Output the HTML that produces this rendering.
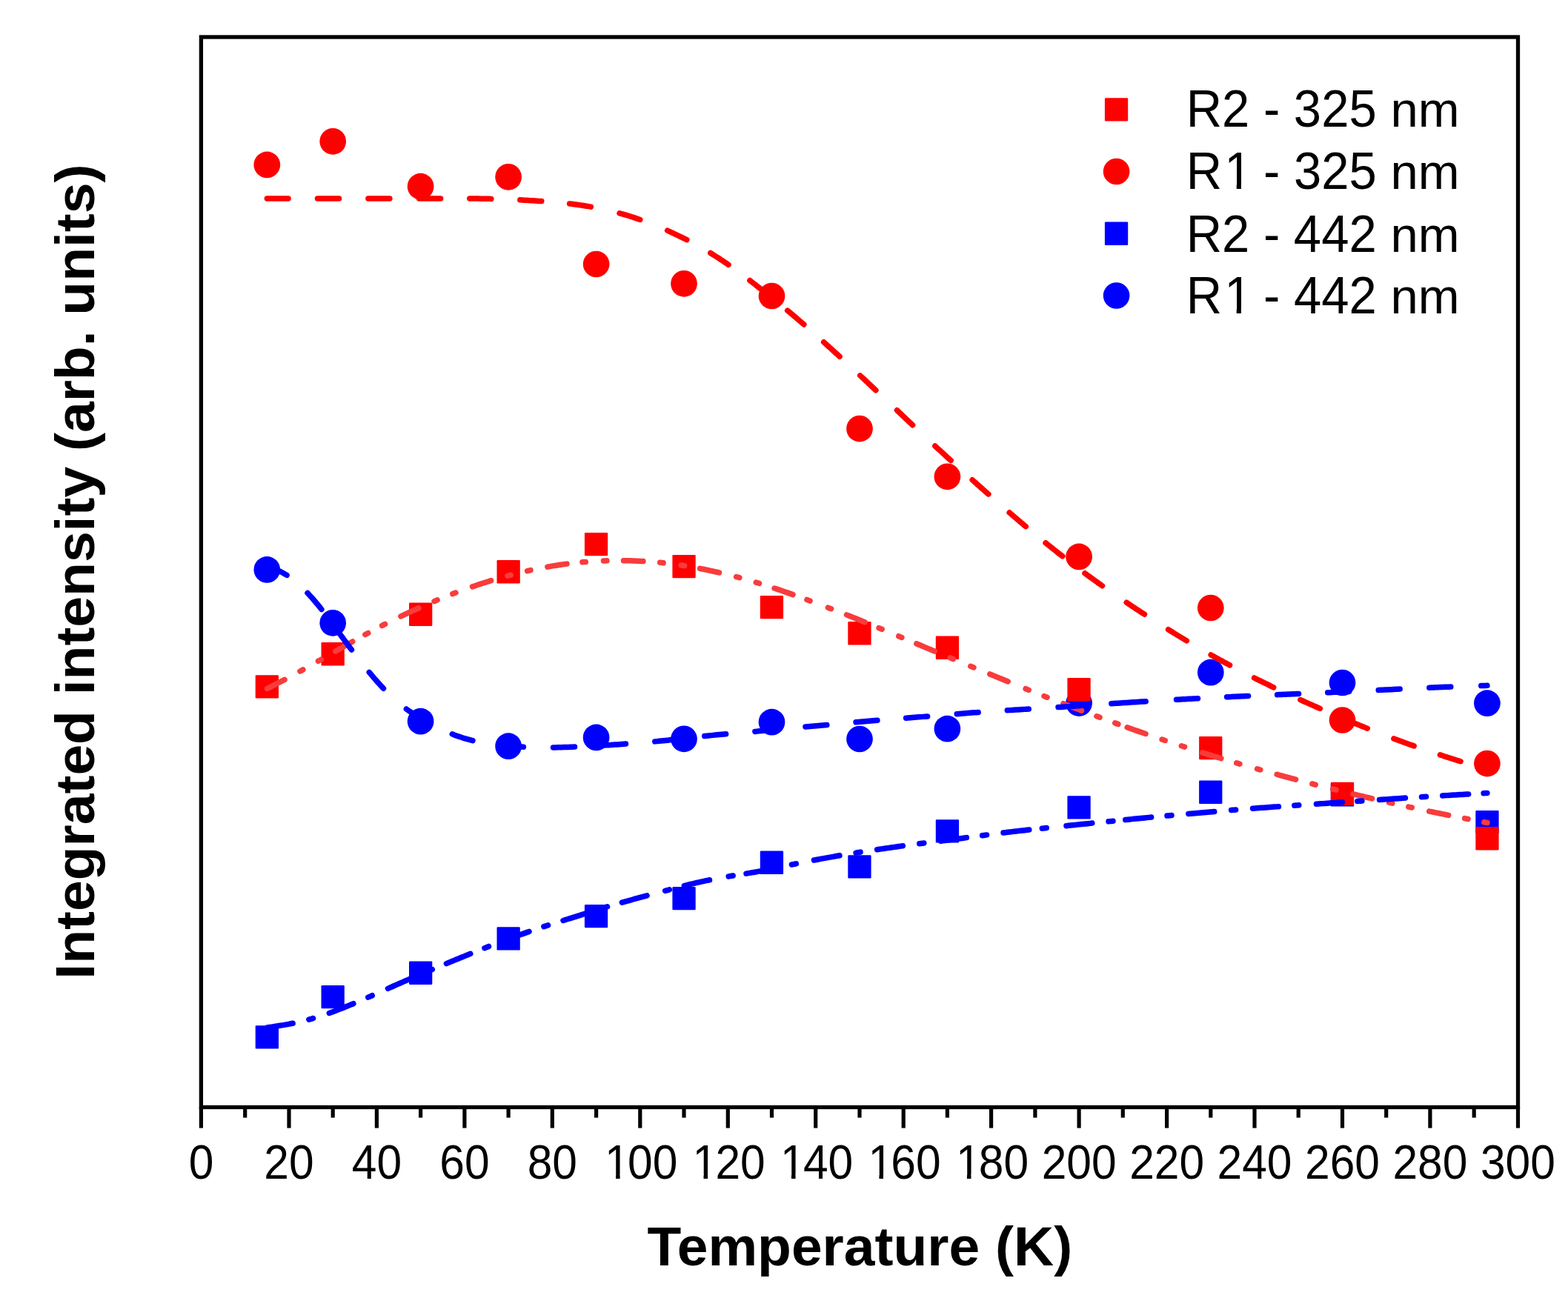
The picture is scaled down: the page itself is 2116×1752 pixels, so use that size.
<!DOCTYPE html>
<html><head><meta charset="utf-8"><title>Integrated intensity vs Temperature</title><style>html,body{margin:0;padding:0;background:#fff;}svg{display:block;}</style></head><body>
<svg width="2116" height="1752" viewBox="0 0 2116 1752">
<rect x="0" y="0" width="2116" height="1752" fill="#fff"/>
<circle cx="360.3" cy="768.9" r="17.85" fill="#0000ff"/>
<circle cx="449.2" cy="840.8" r="17.85" fill="#0000ff"/>
<circle cx="567.6" cy="973.7" r="17.85" fill="#0000ff"/>
<circle cx="686.1" cy="1007.2" r="17.85" fill="#0000ff"/>
<circle cx="804.6" cy="995.4" r="17.85" fill="#0000ff"/>
<circle cx="923.0" cy="997.3" r="17.85" fill="#0000ff"/>
<circle cx="1041.5" cy="974.7" r="17.85" fill="#0000ff"/>
<circle cx="1160.0" cy="997.5" r="17.85" fill="#0000ff"/>
<circle cx="1278.4" cy="983.7" r="17.85" fill="#0000ff"/>
<circle cx="1456.1" cy="949.1" r="17.85" fill="#0000ff"/>
<circle cx="1633.8" cy="907.7" r="17.85" fill="#0000ff"/>
<circle cx="1811.5" cy="921.5" r="17.85" fill="#0000ff"/>
<circle cx="2006.9" cy="949.2" r="17.85" fill="#0000ff"/>
<rect x="344.7" y="1384.3" width="31.3" height="31.3" rx="1.2" fill="#0000ff"/>
<rect x="433.5" y="1330.0" width="31.3" height="31.3" rx="1.2" fill="#0000ff"/>
<rect x="552.0" y="1297.6" width="31.3" height="31.3" rx="1.2" fill="#0000ff"/>
<rect x="670.5" y="1251.3" width="31.3" height="31.3" rx="1.2" fill="#0000ff"/>
<rect x="788.9" y="1220.9" width="31.3" height="31.3" rx="1.2" fill="#0000ff"/>
<rect x="907.4" y="1196.9" width="31.3" height="31.3" rx="1.2" fill="#0000ff"/>
<rect x="1025.8" y="1148.6" width="31.3" height="31.3" rx="1.2" fill="#0000ff"/>
<rect x="1144.3" y="1154.2" width="31.3" height="31.3" rx="1.2" fill="#0000ff"/>
<rect x="1262.8" y="1106.2" width="31.3" height="31.3" rx="1.2" fill="#0000ff"/>
<rect x="1440.4" y="1074.3" width="31.3" height="31.3" rx="1.2" fill="#0000ff"/>
<rect x="1618.1" y="1053.6" width="31.3" height="31.3" rx="1.2" fill="#0000ff"/>
<rect x="1795.8" y="1057.3" width="31.3" height="31.3" rx="1.2" fill="#0000ff"/>
<rect x="1991.3" y="1093.9" width="31.3" height="31.3" rx="1.2" fill="#0000ff"/>
<circle cx="360.3" cy="222.4" r="17.85" fill="#ff0000"/>
<circle cx="449.2" cy="190.8" r="17.85" fill="#ff0000"/>
<circle cx="567.6" cy="251.7" r="17.85" fill="#ff0000"/>
<circle cx="686.1" cy="238.8" r="17.85" fill="#ff0000"/>
<circle cx="804.6" cy="356.5" r="17.85" fill="#ff0000"/>
<circle cx="923.0" cy="382.8" r="17.85" fill="#ff0000"/>
<circle cx="1041.5" cy="399.5" r="17.85" fill="#ff0000"/>
<circle cx="1160.0" cy="578.6" r="17.85" fill="#ff0000"/>
<circle cx="1278.4" cy="643.3" r="17.85" fill="#ff0000"/>
<circle cx="1456.1" cy="751.4" r="17.85" fill="#ff0000"/>
<circle cx="1633.8" cy="820.5" r="17.85" fill="#ff0000"/>
<circle cx="1811.5" cy="972.0" r="17.85" fill="#ff0000"/>
<circle cx="2006.9" cy="1030.6" r="17.85" fill="#ff0000"/>
<rect x="344.7" y="911.2" width="31.3" height="31.3" rx="1.2" fill="#ff0000"/>
<rect x="433.5" y="867.1" width="31.3" height="31.3" rx="1.2" fill="#ff0000"/>
<rect x="552.0" y="813.6" width="31.3" height="31.3" rx="1.2" fill="#ff0000"/>
<rect x="670.5" y="756.1" width="31.3" height="31.3" rx="1.2" fill="#ff0000"/>
<rect x="788.9" y="719.0" width="31.3" height="31.3" rx="1.2" fill="#ff0000"/>
<rect x="907.4" y="749.0" width="31.3" height="31.3" rx="1.2" fill="#ff0000"/>
<rect x="1025.8" y="803.9" width="31.3" height="31.3" rx="1.2" fill="#ff0000"/>
<rect x="1144.3" y="839.1" width="31.3" height="31.3" rx="1.2" fill="#ff0000"/>
<rect x="1262.8" y="858.6" width="31.3" height="31.3" rx="1.2" fill="#ff0000"/>
<rect x="1440.4" y="915.1" width="31.3" height="31.3" rx="1.2" fill="#ff0000"/>
<rect x="1618.1" y="993.9" width="31.3" height="31.3" rx="1.2" fill="#ff0000"/>
<rect x="1795.8" y="1055.8" width="31.3" height="31.3" rx="1.2" fill="#ff0000"/>
<rect x="1991.3" y="1116.1" width="31.3" height="31.3" rx="1.2" fill="#ff0000"/>
<path d="M360.35,268.00 L363.21,268.00 L366.08,268.00 L368.94,268.00 L371.81,268.00 L374.67,268.00 L377.54,268.00 L380.40,268.00 L383.27,268.00 L386.13,268.00 L389.00,268.00 M428.50,268.00 L431.40,268.00 L434.30,268.00 L437.20,268.00 L440.10,268.00 L443.00,268.00 L445.90,268.00 L448.80,268.00 L451.70,268.00 L454.60,268.00 L457.50,268.00 M496.90,268.00 L499.80,268.00 L502.70,268.00 L505.60,268.00 L508.50,268.00 L511.40,268.00 L514.30,268.00 L517.20,268.00 L520.10,268.00 L523.00,268.00 L525.90,268.00 M565.60,267.97 L568.50,267.96 L571.40,267.96 L574.30,267.96 L577.20,267.95 L580.10,267.95 L583.00,267.94 L585.90,267.94 L588.80,267.94 L591.70,267.93 L594.60,267.93 M633.80,268.00 L636.70,268.02 L639.60,268.05 L642.50,268.08 L645.40,268.11 L648.30,268.14 L651.20,268.18 L654.10,268.23 L657.00,268.28 L659.90,268.33 L662.80,268.39 M701.82,269.83 L704.72,269.99 L707.61,270.15 L710.51,270.31 L713.41,270.48 L716.30,270.65 L719.19,270.83 L722.09,271.01 L724.98,271.19 L727.88,271.39 L730.77,271.58 M768.62,274.98 L771.50,275.32 L774.38,275.68 L777.26,276.05 L780.13,276.44 L783.00,276.85 L785.87,277.28 L788.73,277.72 L791.60,278.18 L794.46,278.65 L797.32,279.15 M836.08,287.82 L838.88,288.59 L841.67,289.38 L844.45,290.20 L847.23,291.03 L850.00,291.89 L852.77,292.76 L855.52,293.65 L858.28,294.57 L861.02,295.50 L863.76,296.45 M900.64,311.19 L903.29,312.38 L905.92,313.58 L908.56,314.80 L911.18,316.03 L913.80,317.27 L916.41,318.53 L919.02,319.80 L921.62,321.09 L924.21,322.39 L926.80,323.70 M958.74,341.52 L961.21,343.04 L963.67,344.57 L966.12,346.12 L968.57,347.68 L971.00,349.26 L973.42,350.85 L975.84,352.46 L978.24,354.09 L980.63,355.72 L983.02,357.37 M1011.93,378.58 L1014.23,380.35 L1016.53,382.12 L1018.82,383.89 L1021.11,385.67 L1023.40,387.45 L1025.68,389.24 L1027.97,391.03 L1030.25,392.82 L1032.52,394.62 L1034.79,396.42 M1062.71,419.11 L1064.94,420.97 L1067.16,422.84 L1069.38,424.70 L1071.59,426.58 L1073.80,428.46 L1076.01,430.34 L1078.21,432.23 L1080.40,434.12 L1082.60,436.02 L1084.79,437.92 M1111.66,461.78 L1113.81,463.72 L1115.96,465.67 L1118.11,467.62 L1120.26,469.57 L1122.40,471.52 L1124.54,473.48 L1126.68,475.43 L1128.82,477.39 L1130.96,479.35 L1133.10,481.31 M1160.72,506.89 L1162.83,508.87 L1164.95,510.85 L1167.07,512.83 L1169.19,514.82 L1171.30,516.80 L1173.41,518.79 L1175.53,520.77 L1177.64,522.76 L1179.75,524.75 L1181.86,526.74 M1210.46,553.77 L1212.57,555.77 L1214.67,557.76 L1216.78,559.75 L1218.89,561.74 L1221.00,563.73 L1223.11,565.72 L1225.22,567.71 L1227.33,569.70 L1229.44,571.69 L1231.55,573.67 M1261.84,601.96 L1263.97,603.93 L1266.10,605.89 L1268.23,607.86 L1270.37,609.83 L1272.50,611.79 L1274.64,613.75 L1276.77,615.71 L1278.91,617.67 L1281.05,619.63 L1283.19,621.58 M1312.18,647.78 L1314.34,649.71 L1316.51,651.65 L1318.67,653.58 L1320.83,655.51 L1323.00,657.43 L1325.17,659.36 L1327.34,661.29 L1329.50,663.21 L1331.68,665.14 L1333.85,667.06 M1362.19,691.83 L1364.39,693.72 L1366.59,695.61 L1368.79,697.50 L1370.99,699.38 L1373.20,701.27 L1375.41,703.15 L1377.62,705.02 L1379.83,706.90 L1382.05,708.77 L1384.27,710.63 M1411.09,732.77 L1413.34,734.59 L1415.60,736.41 L1417.87,738.23 L1420.13,740.04 L1422.40,741.84 L1424.67,743.65 L1426.95,745.44 L1429.23,747.24 L1431.51,749.03 L1433.79,750.81 M1463.99,773.73 L1466.32,775.45 L1468.66,777.16 L1471.01,778.87 L1473.35,780.58 L1475.70,782.28 L1478.05,783.97 L1480.41,785.66 L1482.77,787.35 L1485.13,789.03 L1487.50,790.70 M1520.23,813.22 L1522.64,814.84 L1525.05,816.45 L1527.47,818.06 L1529.88,819.66 L1532.30,821.26 L1534.72,822.86 L1537.14,824.46 L1539.56,826.05 L1541.99,827.64 L1544.42,829.23 M1576.56,849.74 L1579.02,851.27 L1581.49,852.80 L1583.96,854.33 L1586.43,855.84 L1588.90,857.36 L1591.38,858.87 L1593.85,860.37 L1596.34,861.87 L1598.82,863.37 L1601.31,864.86 M1634.13,883.92 L1636.66,885.34 L1639.19,886.75 L1641.72,888.16 L1644.26,889.56 L1646.80,890.96 L1649.34,892.36 L1651.89,893.74 L1654.44,895.13 L1656.99,896.50 L1659.55,897.88 M1692.61,915.01 L1695.20,916.31 L1697.80,917.60 L1700.40,918.89 L1703.00,920.17 L1705.60,921.45 L1708.21,922.72 L1710.81,923.99 L1713.43,925.25 L1716.04,926.51 L1718.65,927.76 M1754.87,944.57 L1757.51,945.77 L1760.16,946.96 L1762.80,948.14 L1765.45,949.33 L1768.10,950.51 L1770.75,951.69 L1773.40,952.86 L1776.05,954.04 L1778.71,955.21 L1781.36,956.37 M1818.40,972.24 L1821.07,973.35 L1823.75,974.46 L1826.43,975.57 L1829.12,976.67 L1831.80,977.77 L1834.49,978.87 L1837.17,979.96 L1839.86,981.04 L1842.55,982.12 L1845.25,983.20 M1880.89,996.97 L1883.61,997.98 L1886.33,998.99 L1889.05,999.99 L1891.78,1000.99 L1894.50,1001.99 L1897.23,1002.98 L1899.95,1003.96 L1902.68,1004.94 L1905.42,1005.91 L1908.15,1006.88 M1943.40,1018.90 L1946.16,1019.80 L1948.92,1020.70 L1951.68,1021.60 L1954.44,1022.48 L1957.20,1023.37 L1959.96,1024.25 L1962.73,1025.12 L1965.50,1025.99 L1968.26,1026.85 L1971.03,1027.72" fill="none" stroke="#ff0000" stroke-width="7.5" stroke-linecap="round" stroke-linejoin="round"/>
<path d="M360.58,929.54 L363.19,928.19 L365.79,926.84 L368.40,925.49 L371.00,924.14 L373.60,922.78 L376.20,921.43 L378.80,920.06 L381.40,918.70 L383.99,917.33 M404.97,906.03 L406.90,904.97 L408.83,903.91 M429.49,892.33 L431.40,891.24 L433.31,890.16 M452.83,879.01 L455.38,877.56 L457.93,876.10 L460.48,874.65 L463.02,873.20 L465.58,871.75 L468.13,870.31 L470.68,868.86 L473.24,867.42 L475.79,865.98 M492.87,856.53 L494.80,855.48 L496.73,854.43 M515.64,844.44 L517.60,843.44 L519.56,842.44 M540.96,831.89 L543.60,830.63 L546.26,829.37 L548.91,828.12 L551.57,826.88 L554.23,825.65 L556.90,824.43 L559.56,823.21 L562.24,822.00 L564.91,820.79 M586.07,811.60 L588.10,810.75 L590.13,809.90 M610.85,801.62 L612.90,800.83 L614.96,800.05 M637.49,791.89 L640.26,790.93 L643.04,789.99 L645.82,789.06 L648.61,788.14 L651.39,787.23 L654.19,786.34 L656.98,785.45 L659.78,784.57 L662.59,783.71 M684.98,777.24 L687.10,776.67 L689.23,776.10 M711.65,770.57 L713.80,770.09 L715.95,769.62 M738.88,765.11 L741.77,764.60 L744.66,764.12 L747.55,763.64 L750.45,763.18 L753.35,762.74 L756.25,762.31 L759.15,761.89 L762.06,761.49 L764.97,761.10 M785.91,758.77 L788.10,758.58 L790.29,758.39 M814.50,756.98 L816.70,756.90 L818.90,756.84 M841.50,756.66 L844.44,756.70 L847.37,756.76 L850.30,756.83 L853.23,756.92 L856.17,757.02 L859.10,757.13 L862.03,757.26 L864.96,757.40 L867.89,757.56 M890.71,759.33 L892.90,759.55 L895.09,759.79 M919.23,762.93 L921.40,763.27 L923.57,763.61 M944.67,767.38 L947.55,767.95 L950.42,768.53 L953.29,769.12 L956.17,769.73 L959.03,770.34 L961.90,770.96 L964.76,771.60 L967.63,772.24 L970.48,772.90 M993.57,778.61 L995.70,779.17 L997.83,779.74 M1020.29,786.14 L1022.40,786.77 L1024.50,787.41 M1045.10,793.98 L1047.88,794.90 L1050.66,795.84 L1053.44,796.78 L1056.21,797.73 L1058.99,798.69 L1061.76,799.66 L1064.52,800.63 L1067.29,801.61 L1070.05,802.60 M1088.94,809.48 L1091.00,810.24 L1093.06,811.01 M1117.44,820.17 L1119.50,820.95 L1121.56,821.74 M1142.54,829.87 L1145.26,830.94 L1147.99,832.02 L1150.72,833.11 L1153.44,834.20 L1156.16,835.30 L1158.88,836.40 L1161.60,837.50 L1164.31,838.61 L1167.03,839.72 M1186.07,847.61 L1188.10,848.46 L1190.13,849.30 M1212.77,858.76 L1214.80,859.61 L1216.83,860.46 M1236.82,868.82 L1239.53,869.95 L1242.24,871.08 L1244.94,872.22 L1247.65,873.35 L1250.35,874.48 L1253.06,875.61 L1255.76,876.75 L1258.47,877.88 L1261.18,879.01 M1282.31,887.84 L1284.34,888.68 L1286.37,889.53 M1309.87,899.27 L1311.90,900.11 L1313.93,900.95 M1335.79,909.91 L1338.50,911.02 L1341.21,912.13 L1343.93,913.24 L1346.64,914.36 L1349.36,915.47 L1352.07,916.58 L1354.78,917.70 L1357.50,918.81 L1360.21,919.93 M1384.16,929.71 L1386.20,930.54 L1388.24,931.36 M1408.95,939.63 L1411.00,940.44 L1413.05,941.24 M1434.87,949.74 L1437.61,950.79 L1440.35,951.84 L1443.09,952.89 L1445.83,953.94 L1448.57,954.99 L1451.31,956.03 L1454.05,957.07 L1456.80,958.11 L1459.54,959.15 M1479.94,966.78 L1482.00,967.54 L1484.06,968.30 M1504.73,975.85 L1506.80,976.60 L1508.87,977.35 M1521.16,981.75 L1523.92,982.73 L1526.68,983.72 L1529.45,984.69 L1532.22,985.67 L1534.98,986.64 L1537.75,987.61 L1540.52,988.58 L1543.29,989.54 L1546.06,990.50 M1568.12,998.04 L1570.20,998.74 L1572.29,999.45 M1594.41,1006.78 L1596.50,1007.47 L1598.59,1008.15 M1622.60,1015.84 L1625.40,1016.72 L1628.20,1017.60 L1631.00,1018.47 L1633.80,1019.34 L1636.60,1020.21 L1639.41,1021.07 L1642.21,1021.93 L1645.02,1022.78 L1647.82,1023.64 M1668.69,1029.85 L1670.80,1030.46 L1672.91,1031.08 M1696.58,1037.85 L1698.70,1038.44 L1700.82,1039.04 M1723.16,1045.24 L1725.99,1046.01 L1728.82,1046.78 L1731.65,1047.55 L1734.48,1048.32 L1737.32,1049.09 L1740.15,1049.86 L1742.98,1050.62 L1745.81,1051.38 L1748.65,1052.14 M1770.87,1057.99 L1773.00,1058.54 L1775.13,1059.08 M1798.66,1065.02 L1800.80,1065.55 L1802.94,1066.08 M1825.87,1071.71 L1828.72,1072.40 L1831.57,1073.09 L1834.42,1073.78 L1837.27,1074.46 L1840.13,1075.15 L1842.98,1075.83 L1845.83,1076.50 L1848.69,1077.18 L1851.54,1077.86 M1874.55,1083.19 L1876.70,1083.68 L1878.85,1084.17 M1900.85,1089.07 L1903.00,1089.54 L1905.15,1090.01 M1928.77,1095.06 L1931.64,1095.66 L1934.52,1096.25 L1937.39,1096.85 L1940.26,1097.44 L1943.14,1098.02 L1946.01,1098.61 L1948.89,1099.19 L1951.76,1099.77 L1954.64,1100.34 M1976.64,1104.67 L1978.80,1105.09 L1980.96,1105.51 M2002.94,1109.77 L2004.94,1110.16 L2006.94,1110.55" fill="none" stroke="#f83c3c" stroke-width="7.5" stroke-linecap="round" stroke-linejoin="round"/>
<path d="M360.66,764.67 L363.42,765.56 L366.17,766.48 L368.91,767.45 L371.62,768.48 L374.30,769.58 L376.94,770.77 L379.54,772.06 L382.09,773.44 L384.60,774.90 L387.06,776.43 M415.03,800.44 L417.01,802.55 L418.97,804.69 L420.90,806.86 L422.81,809.04 L424.70,811.24 L426.57,813.46 L428.42,815.69 L430.25,817.94 L432.06,820.20 L433.87,822.47 M457.25,853.75 L458.95,856.09 L460.66,858.44 L462.37,860.78 L464.08,863.12 L465.80,865.46 L467.52,867.79 L469.24,870.12 L470.97,872.45 L472.71,874.78 L474.44,877.10 M498.29,907.47 L500.15,909.70 L502.02,911.91 L503.90,914.12 L505.79,916.32 L507.70,918.50 L509.62,920.67 L511.56,922.83 L513.51,924.97 L515.48,927.10 L517.47,929.21 M548.40,957.02 L550.76,958.70 L553.15,960.34 L555.57,961.95 L558.00,963.53 L560.44,965.09 L562.90,966.63 L565.37,968.16 L567.85,969.66 L570.34,971.14 L572.84,972.60 M610.24,990.86 L612.94,991.91 L615.66,992.91 L618.40,993.88 L621.14,994.82 L623.90,995.71 L626.67,996.57 L629.45,997.38 L632.25,998.16 L635.05,998.90 L637.87,999.60 M677.46,1006.06 L680.34,1006.34 L683.23,1006.61 L686.12,1006.85 L689.01,1007.08 L691.90,1007.30 L694.80,1007.50 L697.69,1007.70 L700.58,1007.88 L703.48,1008.06 L706.37,1008.23 M746.50,1008.95 L749.40,1008.90 L752.30,1008.84 L755.20,1008.78 L758.10,1008.70 L761.00,1008.62 L763.90,1008.53 L766.80,1008.44 L769.70,1008.34 L772.59,1008.23 L775.49,1008.12 M815.53,1006.05 L818.42,1005.87 L821.32,1005.68 L824.21,1005.50 L827.11,1005.31 L830.00,1005.11 L832.89,1004.92 L835.79,1004.72 L838.68,1004.52 L841.57,1004.32 L844.47,1004.11 M883.77,1000.89 L886.66,1000.62 L889.54,1000.34 L892.43,1000.05 L895.32,999.76 L898.20,999.46 L901.08,999.16 L903.97,998.85 L906.85,998.53 L909.73,998.21 L912.61,997.88 M950.77,993.53 L953.66,993.23 L956.54,992.93 L959.43,992.64 L962.31,992.36 L965.20,992.08 L968.09,991.82 L970.98,991.56 L973.87,991.31 L976.76,991.07 L979.65,990.83 M1018.88,987.41 L1021.76,987.11 L1024.64,986.79 L1027.53,986.47 L1030.41,986.15 L1033.29,985.82 L1036.17,985.50 L1039.06,985.19 L1041.94,984.88 L1044.82,984.58 L1047.71,984.30 M1086.95,980.94 L1089.84,980.71 L1092.73,980.47 L1095.62,980.24 L1098.51,980.00 L1101.40,979.76 L1104.29,979.51 L1107.18,979.26 L1110.07,979.01 L1112.96,978.75 L1115.84,978.49 M1155.06,974.83 L1157.95,974.56 L1160.83,974.30 L1163.72,974.04 L1166.61,973.78 L1169.50,973.52 L1172.39,973.27 L1175.28,973.02 L1178.17,972.78 L1181.06,972.53 L1183.95,972.29 M1222.65,969.23 L1225.54,969.00 L1228.43,968.77 L1231.32,968.54 L1234.21,968.31 L1237.10,968.08 L1239.99,967.85 L1242.88,967.62 L1245.77,967.38 L1248.66,967.14 L1251.55,966.91 M1291.24,963.64 L1294.14,963.41 L1297.03,963.18 L1299.92,962.96 L1302.81,962.73 L1305.70,962.51 L1308.59,962.29 L1311.48,962.08 L1314.38,961.86 L1317.27,961.65 L1320.16,961.44 M1359.33,958.81 L1362.22,958.62 L1365.12,958.44 L1368.01,958.26 L1370.91,958.08 L1373.80,957.90 L1376.69,957.73 L1379.59,957.55 L1382.48,957.37 L1385.38,957.20 L1388.27,957.02 M1428.03,954.58 L1430.92,954.40 L1433.82,954.21 L1436.71,954.02 L1439.61,953.83 L1442.50,953.64 L1445.39,953.45 L1448.29,953.26 L1451.18,953.06 L1454.07,952.87 L1456.97,952.67 M1499.80,949.75 L1502.70,949.55 L1505.60,949.36 L1508.50,949.16 L1511.40,948.97 L1514.30,948.78 L1517.20,948.58 L1520.10,948.39 L1523.00,948.20 L1525.90,948.02 L1528.80,947.83 L1531.70,947.64 L1534.60,947.46 L1537.50,947.27 L1540.40,947.09 L1543.30,946.91 L1546.20,946.73 M1587.52,944.30 L1590.42,944.14 L1593.31,943.97 L1596.21,943.82 L1599.10,943.66 L1602.00,943.50 L1604.90,943.34 L1607.79,943.19 L1610.69,943.04 L1613.58,942.88 L1616.48,942.73 M1655.62,940.78 L1658.51,940.64 L1661.41,940.51 L1664.31,940.37 L1667.20,940.24 L1670.10,940.10 L1673.00,939.97 L1675.89,939.83 L1678.79,939.70 L1681.69,939.57 L1684.58,939.44 M1723.61,937.72 L1726.51,937.60 L1729.41,937.47 L1732.31,937.35 L1735.20,937.22 L1738.10,937.10 L1741.00,936.98 L1743.89,936.85 L1746.79,936.73 L1749.69,936.60 L1752.59,936.48 M1791.71,934.76 L1794.61,934.63 L1797.51,934.49 L1800.41,934.36 L1803.30,934.23 L1806.20,934.10 L1809.10,933.96 L1811.99,933.83 L1814.89,933.69 L1817.79,933.56 L1820.68,933.42 M1860.22,931.51 L1863.11,931.37 L1866.01,931.23 L1868.91,931.08 L1871.80,930.94 L1874.70,930.80 L1877.60,930.65 L1880.49,930.51 L1883.39,930.37 L1886.29,930.23 L1889.18,930.09 M1928.81,928.22 L1931.71,928.10 L1934.61,927.97 L1937.51,927.85 L1940.40,927.73 L1943.30,927.61 L1946.20,927.49 L1949.10,927.37 L1951.99,927.26 L1954.89,927.15 L1957.79,927.04 M1998.75,925.61 L2001.48,925.52 L2004.21,925.43 L2006.94,925.34" fill="none" stroke="#0000ff" stroke-width="7.5" stroke-linecap="round" stroke-linejoin="round"/>
<path d="M360.60,1386.95 L363.49,1386.53 L366.37,1386.09 L369.25,1385.66 L372.14,1385.22 L375.02,1384.77 L377.90,1384.31 L380.78,1383.84 L383.65,1383.35 L386.53,1382.85 L389.40,1382.33 L392.26,1381.78 L395.12,1381.22 M416.81,1376.10 L418.74,1375.57 L420.66,1375.03 L422.58,1374.47 M444.32,1367.42 L447.06,1366.43 L449.80,1365.43 L452.53,1364.41 L455.26,1363.37 L457.98,1362.32 L460.70,1361.26 L463.41,1360.19 L466.12,1359.10 L468.82,1358.01 L471.52,1356.90 L474.22,1355.79 L476.91,1354.67 M496.75,1346.17 L498.58,1345.37 L500.42,1344.57 L502.25,1343.76 M523.49,1334.32 L526.16,1333.14 L528.83,1331.96 L531.49,1330.78 L534.16,1329.60 L536.83,1328.42 L539.50,1327.25 L542.17,1326.08 L544.84,1324.91 L547.52,1323.74 L550.19,1322.58 L552.87,1321.42 L555.55,1320.27 M577.73,1310.85 L579.58,1310.08 L581.42,1309.31 L583.27,1308.53 M602.42,1300.60 L605.11,1299.48 L607.81,1298.37 L610.51,1297.26 L613.20,1296.15 L615.90,1295.04 L618.60,1293.94 L621.30,1292.83 L624.00,1291.72 L626.69,1290.61 L629.39,1289.51 L632.09,1288.41 L634.80,1287.31 M653.91,1279.65 L655.77,1278.92 L657.63,1278.20 L659.50,1277.47 M681.16,1269.30 L683.90,1268.29 L686.63,1267.29 L689.37,1266.29 L692.12,1265.29 L694.86,1264.30 L697.60,1263.31 L700.34,1262.32 L703.09,1261.33 L705.83,1260.35 L708.58,1259.37 L711.33,1258.39 L714.08,1257.42 M733.85,1250.68 L735.75,1250.06 L737.65,1249.44 L739.56,1248.83 M759.98,1242.48 L762.77,1241.62 L765.56,1240.77 L768.34,1239.91 L771.13,1239.05 L773.92,1238.19 L776.70,1237.32 L779.48,1236.44 L782.26,1235.56 L785.04,1234.67 L787.82,1233.78 L790.59,1232.88 L793.37,1231.99 M813.83,1225.51 L815.74,1224.92 L817.66,1224.34 L819.57,1223.77 M839.32,1218.10 L842.13,1217.33 L844.94,1216.55 L847.76,1215.78 L850.57,1215.02 L853.39,1214.25 L856.20,1213.49 L859.02,1212.73 L861.83,1211.96 L864.65,1211.20 L867.46,1210.44 L870.28,1209.68 L873.09,1208.92 M897.60,1202.34 L899.53,1201.82 L901.47,1201.31 L903.40,1200.79 M923.39,1195.59 L926.22,1194.87 L929.05,1194.17 L931.89,1193.48 L934.72,1192.79 L937.56,1192.12 L940.40,1191.46 L943.24,1190.81 L946.09,1190.17 L948.94,1189.55 L951.79,1188.93 L954.64,1188.33 L957.50,1187.74 M983.24,1182.93 L985.21,1182.60 L987.19,1182.27 L989.16,1181.94 M1007.05,1179.08 L1009.93,1178.62 L1012.80,1178.15 L1015.68,1177.67 L1018.56,1177.18 L1021.43,1176.68 L1024.30,1176.16 L1027.17,1175.63 L1030.03,1175.08 L1032.90,1174.53 L1035.76,1173.95 L1038.61,1173.37 L1041.47,1172.78 M1068.46,1167.03 L1070.42,1166.62 L1072.38,1166.21 L1074.34,1165.80 M1098.49,1161.04 L1101.36,1160.50 L1104.22,1159.96 L1107.09,1159.43 L1109.96,1158.90 L1112.83,1158.38 L1115.70,1157.86 L1118.57,1157.34 L1121.44,1156.83 L1124.31,1156.32 L1127.19,1155.81 L1130.06,1155.31 L1132.93,1154.81 M1155.14,1151.09 L1157.11,1150.77 L1159.09,1150.45 L1161.06,1150.14 M1183.68,1146.69 L1186.57,1146.26 L1189.45,1145.84 L1192.34,1145.42 L1195.23,1145.01 L1198.11,1144.59 L1201.00,1144.18 L1203.89,1143.77 L1206.78,1143.37 L1209.66,1142.96 L1212.55,1142.56 L1215.44,1142.16 L1218.33,1141.76 M1240.82,1138.77 L1242.81,1138.52 L1244.79,1138.27 L1246.78,1138.02 M1269.64,1135.18 L1272.53,1134.82 L1275.43,1134.46 L1278.32,1134.10 L1281.22,1133.73 L1284.11,1133.36 L1287.00,1132.98 L1289.89,1132.60 L1292.78,1132.21 L1295.67,1131.82 L1298.56,1131.43 L1301.45,1131.03 L1304.34,1130.63 M1325.63,1127.69 L1327.61,1127.43 L1329.59,1127.16 L1331.57,1126.90 M1354.02,1124.03 L1356.92,1123.68 L1359.81,1123.33 L1362.71,1122.98 L1365.61,1122.64 L1368.50,1122.30 L1371.40,1121.97 L1374.30,1121.63 L1377.20,1121.31 L1380.09,1120.98 L1382.99,1120.65 L1385.89,1120.33 L1388.79,1120.01 M1406.32,1118.12 L1408.31,1117.90 L1410.29,1117.69 L1412.28,1117.48 M1438.99,1114.65 L1441.89,1114.35 L1444.80,1114.05 L1447.70,1113.74 L1450.60,1113.44 L1453.50,1113.14 L1456.40,1112.84 L1459.30,1112.55 L1462.20,1112.25 L1465.10,1111.95 L1468.01,1111.65 L1470.91,1111.36 L1473.81,1111.06 M1496.02,1108.81 L1498.01,1108.61 L1499.99,1108.41 L1501.98,1108.21 M1518.79,1106.51 L1521.69,1106.22 L1524.59,1105.92 L1527.49,1105.63 L1530.39,1105.35 L1533.30,1105.06 L1536.20,1104.77 L1539.10,1104.49 L1542.01,1104.20 L1544.91,1103.92 L1547.81,1103.64 L1550.72,1103.36 L1553.62,1103.09 M1575.01,1101.08 L1577.00,1100.90 L1579.00,1100.71 L1580.99,1100.53 M1603.87,1098.47 L1606.77,1098.21 L1609.68,1097.95 L1612.58,1097.69 L1615.49,1097.43 L1618.39,1097.18 L1621.30,1096.92 L1624.21,1096.66 L1627.11,1096.41 L1630.02,1096.15 L1632.92,1095.90 L1635.83,1095.64 L1638.73,1095.39 M1661.61,1093.46 L1663.60,1093.30 L1665.60,1093.14 L1667.59,1092.98 M1690.55,1091.21 L1693.46,1090.99 L1696.36,1090.78 L1699.27,1090.56 L1702.18,1090.35 L1705.09,1090.14 L1708.00,1089.92 L1710.91,1089.71 L1713.82,1089.50 L1716.73,1089.29 L1719.64,1089.08 L1722.55,1088.88 L1725.45,1088.67 M1746.81,1087.17 L1748.80,1087.04 L1750.80,1086.90 L1752.79,1086.77 M1776.44,1085.19 L1779.35,1085.00 L1782.26,1084.81 L1785.17,1084.62 L1788.08,1084.43 L1790.99,1084.24 L1793.90,1084.04 L1796.81,1083.85 L1799.72,1083.66 L1802.63,1083.46 L1805.54,1083.27 L1808.45,1083.08 L1811.36,1082.88 M1831.91,1081.49 L1833.90,1081.36 L1835.90,1081.22 L1837.89,1081.09 M1861.54,1079.47 L1864.45,1079.27 L1867.36,1079.07 L1870.27,1078.87 L1873.18,1078.68 L1876.09,1078.48 L1879.00,1078.28 L1881.91,1078.08 L1884.82,1077.89 L1887.73,1077.69 L1890.64,1077.50 L1893.55,1077.30 L1896.46,1077.11 M1918.51,1075.68 L1920.50,1075.55 L1922.50,1075.43 L1924.49,1075.31 M1946.73,1073.96 L1949.64,1073.79 L1952.55,1073.62 L1955.47,1073.45 L1958.38,1073.28 L1961.29,1073.11 L1964.20,1072.94 L1967.11,1072.76 L1970.02,1072.59 L1972.93,1072.42 L1975.85,1072.25 L1978.76,1072.08 L1981.67,1071.90 M2002.11,1070.69 L2004.52,1070.54 L2006.94,1070.40" fill="none" stroke="#0000ff" stroke-width="7.5" stroke-linecap="round" stroke-linejoin="round"/>
<rect x="271.4" y="50.0" width="1777.1" height="1444.5" fill="none" stroke="#000" stroke-width="5.3"/>
<line x1="271.4" y1="1494.5" x2="271.4" y2="1522.6" stroke="#000" stroke-width="5.2"/>
<line x1="330.7" y1="1494.5" x2="330.7" y2="1508.6" stroke="#000" stroke-width="5.2"/>
<line x1="390.0" y1="1494.5" x2="390.0" y2="1522.6" stroke="#000" stroke-width="5.2"/>
<line x1="449.2" y1="1494.5" x2="449.2" y2="1508.6" stroke="#000" stroke-width="5.2"/>
<line x1="508.4" y1="1494.5" x2="508.4" y2="1522.6" stroke="#000" stroke-width="5.2"/>
<line x1="567.6" y1="1494.5" x2="567.6" y2="1508.6" stroke="#000" stroke-width="5.2"/>
<line x1="626.9" y1="1494.5" x2="626.9" y2="1522.6" stroke="#000" stroke-width="5.2"/>
<line x1="686.1" y1="1494.5" x2="686.1" y2="1508.6" stroke="#000" stroke-width="5.2"/>
<line x1="745.3" y1="1494.5" x2="745.3" y2="1522.6" stroke="#000" stroke-width="5.2"/>
<line x1="804.6" y1="1494.5" x2="804.6" y2="1508.6" stroke="#000" stroke-width="5.2"/>
<line x1="863.8" y1="1494.5" x2="863.8" y2="1522.6" stroke="#000" stroke-width="5.2"/>
<line x1="923.0" y1="1494.5" x2="923.0" y2="1508.6" stroke="#000" stroke-width="5.2"/>
<line x1="982.3" y1="1494.5" x2="982.3" y2="1522.6" stroke="#000" stroke-width="5.2"/>
<line x1="1041.5" y1="1494.5" x2="1041.5" y2="1508.6" stroke="#000" stroke-width="5.2"/>
<line x1="1100.7" y1="1494.5" x2="1100.7" y2="1522.6" stroke="#000" stroke-width="5.2"/>
<line x1="1160.0" y1="1494.5" x2="1160.0" y2="1508.6" stroke="#000" stroke-width="5.2"/>
<line x1="1219.2" y1="1494.5" x2="1219.2" y2="1522.6" stroke="#000" stroke-width="5.2"/>
<line x1="1278.4" y1="1494.5" x2="1278.4" y2="1508.6" stroke="#000" stroke-width="5.2"/>
<line x1="1337.6" y1="1494.5" x2="1337.6" y2="1522.6" stroke="#000" stroke-width="5.2"/>
<line x1="1396.9" y1="1494.5" x2="1396.9" y2="1508.6" stroke="#000" stroke-width="5.2"/>
<line x1="1456.1" y1="1494.5" x2="1456.1" y2="1522.6" stroke="#000" stroke-width="5.2"/>
<line x1="1515.3" y1="1494.5" x2="1515.3" y2="1508.6" stroke="#000" stroke-width="5.2"/>
<line x1="1574.6" y1="1494.5" x2="1574.6" y2="1522.6" stroke="#000" stroke-width="5.2"/>
<line x1="1633.8" y1="1494.5" x2="1633.8" y2="1508.6" stroke="#000" stroke-width="5.2"/>
<line x1="1693.0" y1="1494.5" x2="1693.0" y2="1522.6" stroke="#000" stroke-width="5.2"/>
<line x1="1752.2" y1="1494.5" x2="1752.2" y2="1508.6" stroke="#000" stroke-width="5.2"/>
<line x1="1811.5" y1="1494.5" x2="1811.5" y2="1522.6" stroke="#000" stroke-width="5.2"/>
<line x1="1870.7" y1="1494.5" x2="1870.7" y2="1508.6" stroke="#000" stroke-width="5.2"/>
<line x1="1929.9" y1="1494.5" x2="1929.9" y2="1522.6" stroke="#000" stroke-width="5.2"/>
<line x1="1989.2" y1="1494.5" x2="1989.2" y2="1508.6" stroke="#000" stroke-width="5.2"/>
<line x1="2048.5" y1="1494.5" x2="2048.5" y2="1522.6" stroke="#000" stroke-width="5.2"/>
<defs><clipPath id="c1t" clipPathUnits="userSpaceOnUse"><path clip-rule="evenodd" d="M-3000,-3000 H3000 V3000 H-3000 Z M5.81,-5.69 H17.73 V1.81 H5.81 Z M23.29,-5.69 H34.85 V1.81 H23.29 Z"/></clipPath><clipPath id="c1l" clipPathUnits="userSpaceOnUse"><path clip-rule="evenodd" d="M-3000,-3000 H3000 V3000 H-3000 Z M54.81,-6.30 H68.01 V2.01 H54.81 Z M74.17,-6.30 H86.97 V2.01 H74.17 Z"/></clipPath></defs>
<text transform="translate(271.5,1591.0) scale(1,1.06)" text-anchor="middle" font-family="Liberation Sans, Arial, Helvetica, sans-serif" font-size="60.5">0</text>
<text transform="translate(390.0,1591.0) scale(1,1.06)" text-anchor="middle" font-family="Liberation Sans, Arial, Helvetica, sans-serif" font-size="60.5">20</text>
<text transform="translate(508.4,1591.0) scale(1,1.06)" text-anchor="middle" font-family="Liberation Sans, Arial, Helvetica, sans-serif" font-size="60.5">40</text>
<text transform="translate(626.9,1591.0) scale(1,1.06)" text-anchor="middle" font-family="Liberation Sans, Arial, Helvetica, sans-serif" font-size="60.5">60</text>
<text transform="translate(745.3,1591.0) scale(1,1.06)" text-anchor="middle" font-family="Liberation Sans, Arial, Helvetica, sans-serif" font-size="60.5">80</text>
<text transform="translate(813.34,1591.0) scale(1,1.06)" clip-path="url(#c1t)" font-family="Liberation Sans, Arial, Helvetica, sans-serif" font-size="60.5"><tspan dx="2.78">1</tspan><tspan dx="-2.78">00</tspan></text>
<text transform="translate(931.80,1591.0) scale(1,1.06)" clip-path="url(#c1t)" font-family="Liberation Sans, Arial, Helvetica, sans-serif" font-size="60.5"><tspan dx="2.78">1</tspan><tspan dx="-2.78">20</tspan></text>
<text transform="translate(1050.26,1591.0) scale(1,1.06)" clip-path="url(#c1t)" font-family="Liberation Sans, Arial, Helvetica, sans-serif" font-size="60.5"><tspan dx="2.78">1</tspan><tspan dx="-2.78">40</tspan></text>
<text transform="translate(1168.72,1591.0) scale(1,1.06)" clip-path="url(#c1t)" font-family="Liberation Sans, Arial, Helvetica, sans-serif" font-size="60.5"><tspan dx="2.78">1</tspan><tspan dx="-2.78">60</tspan></text>
<text transform="translate(1287.18,1591.0) scale(1,1.06)" clip-path="url(#c1t)" font-family="Liberation Sans, Arial, Helvetica, sans-serif" font-size="60.5"><tspan dx="2.78">1</tspan><tspan dx="-2.78">80</tspan></text>
<text transform="translate(1456.1,1591.0) scale(1,1.06)" text-anchor="middle" font-family="Liberation Sans, Arial, Helvetica, sans-serif" font-size="60.5">200</text>
<text transform="translate(1574.6,1591.0) scale(1,1.06)" text-anchor="middle" font-family="Liberation Sans, Arial, Helvetica, sans-serif" font-size="60.5">220</text>
<text transform="translate(1693.0,1591.0) scale(1,1.06)" text-anchor="middle" font-family="Liberation Sans, Arial, Helvetica, sans-serif" font-size="60.5">240</text>
<text transform="translate(1811.5,1591.0) scale(1,1.06)" text-anchor="middle" font-family="Liberation Sans, Arial, Helvetica, sans-serif" font-size="60.5">260</text>
<text transform="translate(1929.9,1591.0) scale(1,1.06)" text-anchor="middle" font-family="Liberation Sans, Arial, Helvetica, sans-serif" font-size="60.5">280</text>
<text transform="translate(2048.4,1591.0) scale(1,1.06)" text-anchor="middle" font-family="Liberation Sans, Arial, Helvetica, sans-serif" font-size="60.5">300</text>
<text transform="translate(1160.3,1708.4)" text-anchor="middle" font-family="Liberation Sans, Arial, Helvetica, sans-serif" font-weight="bold" font-size="75">Temperature (K)</text>
<text transform="translate(127.3,771.6) rotate(-90)" text-anchor="middle" font-family="Liberation Sans, Arial, Helvetica, sans-serif" font-weight="bold" font-size="75">Integrated intensity (arb. units)</text>
<rect x="1490.9" y="132.2" width="31.3" height="31.3" rx="1.2" fill="#ff0000"/>
<text transform="translate(1600.7,171.2) scale(1,1.055)" font-family="Liberation Sans, Arial, Helvetica, sans-serif" font-size="67">R2 - 325</text>
<text transform="translate(1876.6,171.2)" font-family="Liberation Sans, Arial, Helvetica, sans-serif" font-size="67">nm</text>
<circle cx="1506.6" cy="231.5" r="17.85" fill="#ff0000"/>
<text transform="translate(1600.7,255.3) scale(1,1.055)" clip-path="url(#c1l)" font-family="Liberation Sans, Arial, Helvetica, sans-serif" font-size="67">R<tspan dx="3.08">1</tspan><tspan dx="-3.08"> - 325</tspan></text>
<text transform="translate(1876.6,255.3)" font-family="Liberation Sans, Arial, Helvetica, sans-serif" font-size="67">nm</text>
<rect x="1490.9" y="299.6" width="31.3" height="31.3" rx="1.2" fill="#0000ff"/>
<text transform="translate(1600.7,339.5) scale(1,1.055)" font-family="Liberation Sans, Arial, Helvetica, sans-serif" font-size="67">R2 - 442</text>
<text transform="translate(1876.6,339.5)" font-family="Liberation Sans, Arial, Helvetica, sans-serif" font-size="67">nm</text>
<circle cx="1506.6" cy="399.0" r="17.85" fill="#0000ff"/>
<text transform="translate(1600.7,422.7) scale(1,1.055)" clip-path="url(#c1l)" font-family="Liberation Sans, Arial, Helvetica, sans-serif" font-size="67">R<tspan dx="3.08">1</tspan><tspan dx="-3.08"> - 442</tspan></text>
<text transform="translate(1876.6,422.7)" font-family="Liberation Sans, Arial, Helvetica, sans-serif" font-size="67">nm</text>
</svg>
</body></html>
